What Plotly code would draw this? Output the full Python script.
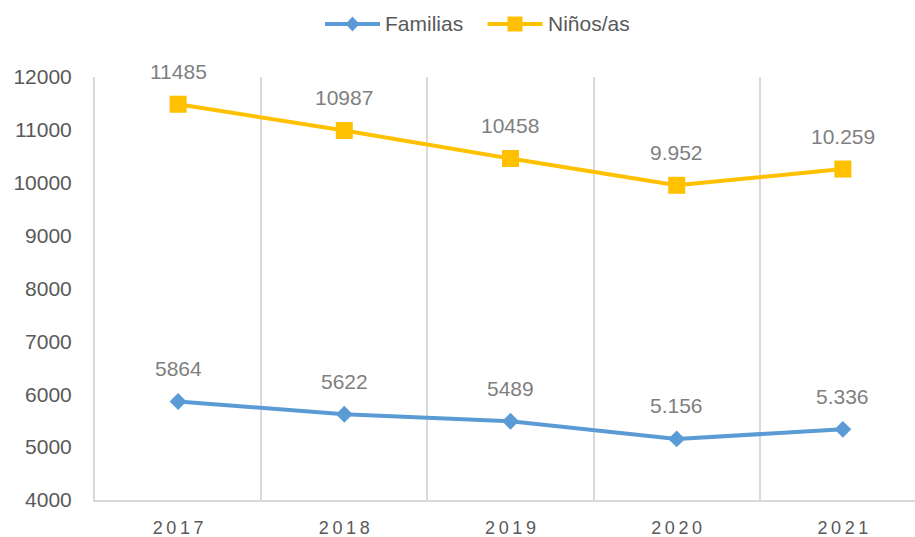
import plotly.graph_objects as go

years = ["2017", "2018", "2019", "2020", "2021"]
year_labels = ["2\u20090\u20091\u20097", "2\u20090\u20091\u20098", "2\u20090\u20091\u20099", "2\u20090\u20092\u20090", "2\u20090\u20092\u20091"]
familias = [5864, 5622, 5489, 5156, 5336]
familias_labels = ["5864", "5622", "5489", "5.156", "5.336"]
ninos = [11485, 10987, 10458, 9952, 10259]
ninos_labels = ["11485", "10987", "10458", "9.952", "10.259"]
y_ticks = [4000, 5000, 6000, 7000, 8000, 9000, 10000, 11000, 12000]
series_names = ["Familias", "Niños/as"]

BLUE = "#5B9BD5"
GOLD = "#FFC000"
FONT = "Liberation Sans, Arial, sans-serif"

# plot area geometry (pixels) used for converting legend placement to paper coords
L, R, T, B = 95, 915, 77, 500
def px(x):
    return (x - L) / (R - L)
def py(y):
    return (B - y) / (B - T)

fig = go.Figure()
fig.add_trace(go.Scatter(
    x=years, y=familias, name=series_names[0], mode="lines+markers",
    line=dict(color=BLUE, width=4),
    marker=dict(symbol="diamond", size=13, color=BLUE),
))
fig.add_trace(go.Scatter(
    x=years, y=ninos, name=series_names[1], mode="lines+markers",
    line=dict(color=GOLD, width=4),
    marker=dict(symbol="square", size=17, color=GOLD),
))

annotations = []
for ys, labs in [(familias, familias_labels), (ninos, ninos_labels)]:
    for i, (y, t) in enumerate(zip(ys, labs)):
        annotations.append(dict(
            x=i, y=y, xref="x", yref="y", text=t, showarrow=False, yshift=33,
            font=dict(family=FONT, size=21, color="#7F7F7F"),
        ))

# custom legend
LEG_Y = py(24)
shapes = []
for cx, col, text_x, name, sym in [(352.5, BLUE, 383, series_names[0], "diamond"),
                                   (515, GOLD, 546, series_names[1], "square")]:
    shapes.append(dict(type="line", xref="paper", yref="paper",
                       xsizemode="pixel", ysizemode="pixel",
                       xanchor=px(cx), yanchor=LEG_Y,
                       x0=-27.5, x1=27.5, y0=0, y1=0,
                       line=dict(color=col, width=4)))
    if sym == "diamond":
        shapes.append(dict(type="path", xref="paper", yref="paper",
                           xsizemode="pixel", ysizemode="pixel",
                           xanchor=px(cx), yanchor=LEG_Y,
                           path="M -7 0 L 0 7.5 L 7 0 L 0 -7.5 Z",
                           fillcolor=col, line=dict(width=0)))
    else:
        shapes.append(dict(type="rect", xref="paper", yref="paper",
                           xsizemode="pixel", ysizemode="pixel",
                           xanchor=px(cx), yanchor=LEG_Y,
                           x0=-7.5, x1=7.5, y0=-7.5, y1=7.5,
                           fillcolor=col, line=dict(width=0)))
    annotations.append(dict(x=px(text_x), y=LEG_Y, xref="paper", yref="paper",
                            xanchor="left", yanchor="middle", text=name,
                            showarrow=False,
                            font=dict(family=FONT, size=21, color="#595959")))

fig.update_layout(
    width=915, height=537,
    margin=dict(l=L, r=915 - R, t=T, b=537 - B, autoexpand=False),
    paper_bgcolor="white", plot_bgcolor="white",
    font=dict(family=FONT, color="#595959"),
    showlegend=False,
    annotations=annotations,
    shapes=shapes,
    xaxis=dict(
        type="category", range=[-0.5, 4.434], automargin=False,
        tickmode="array", tickvals=years, ticktext=year_labels,
        tickson="boundaries", showgrid=True, gridcolor="#D9D9D9", gridwidth=2,
        showline=True, linecolor="#D9D9D9", linewidth=2,
        ticks="", tickfont=dict(size=18, color="#595959"),
        ticklabelstandoff=10, zeroline=False,
    ),
    yaxis=dict(
        range=[4000, 12000], tickvals=y_ticks, tickformat="d", automargin=False,
        showgrid=False, zeroline=False,
        showline=True, linecolor="#D9D9D9", linewidth=2,
        ticks="", tickfont=dict(size=21, color="#595959"),
        ticklabelstandoff=17,
    ),
)

fig.write_html("out.html", config={"displayModeBar": False},
               post_script="document.body.style.margin='0';")
